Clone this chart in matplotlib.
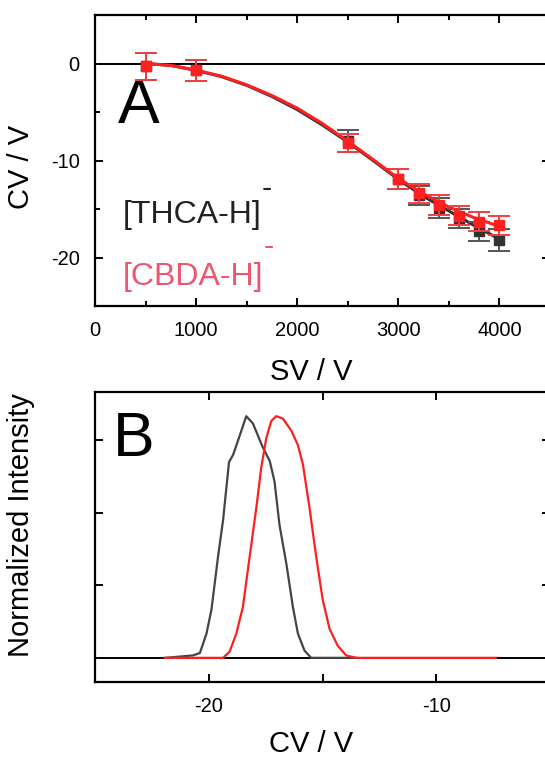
import numpy as np
import matplotlib
matplotlib.use('Agg')
import matplotlib.pyplot as plt
from matplotlib.ticker import MultipleLocator, NullFormatter

plt.rcParams['font.family'] = ['Liberation Sans', 'DejaVu Sans']
plt.rcParams['axes.unicode_minus'] = False

# panel A: CV vs SV
sv = [500, 1000, 2500, 3000, 3200, 3400, 3600, 3800, 4000]
cv_thca = [-0.3, -0.7, -8.0, -11.9, -13.6, -14.9, -16.0, -17.3, -18.2]
err_thca = [1.4, 1.1, 1.1, 1.0, 1.0, 1.0, 1.0, 1.0, 1.1]
cv_cbda = [-0.3, -0.7, -8.2, -11.9, -13.4, -14.6, -15.7, -16.3, -16.7]
err_cbda = [1.4, 1.1, 0.9, 1.0, 1.0, 1.0, 1.0, 1.0, 1.0]

# fitted curves
sv_fit = [500, 750, 1000, 1250, 1500, 1750, 2000, 2250, 2500, 2750, 3000, 3250, 3500, 3750, 4000]
fit_thca = [0.0, -0.2, -0.7, -1.35, -2.25, -3.4, -4.75, -6.35, -8.1, -10.0, -11.95, -13.7, -15.2, -16.7, -18.1]
fit_cbda = [0.0, -0.2, -0.7, -1.3, -2.2, -3.3, -4.6, -6.2, -8.0, -9.9, -11.85, -13.45, -14.8, -15.9, -16.8]

# panel B: normalized CV spectra
cv_b_thca = [-21.9, -20.69, -20.39, -20.10, -19.88, -19.59, -19.37, -19.11, -18.93, -18.71, -18.35,
             -18.06, -17.62, -17.32, -17.11, -16.89, -16.59, -16.30, -16.08, -15.79, -15.50, -13.5]
int_thca = [0.0, 0.01, 0.02, 0.10, 0.20, 0.42, 0.57, 0.81, 0.84, 0.90, 1.0,
            0.97, 0.87, 0.815, 0.73, 0.55, 0.39, 0.21, 0.10, 0.03, 0.0, 0.0]
cv_b_cbda = [-21.93, -19.37, -19.08, -18.79, -18.50, -18.20, -17.91, -17.69, -17.47, -17.25, -17.03,
             -16.74, -16.37, -16.08, -15.86, -15.57, -15.28, -14.99, -14.69, -14.33, -13.96, -13.52, -7.38]
int_cbda = [0.0, 0.0, 0.026, 0.10, 0.21, 0.42, 0.62, 0.79, 0.91, 0.98, 1.0,
            0.99, 0.94, 0.88, 0.80, 0.62, 0.42, 0.24, 0.12, 0.05, 0.01, 0.0, 0.0]

black = '#333333'
red = '#ff1f1f'
pink = '#ee5670'

fig = plt.figure(figsize=(5.45, 7.59), dpi=100)
axA = fig.add_axes([95/545, 1-306/759, 455/545, 291/759])
axB = fig.add_axes([95/545, 1-682/759, 455/545, 290/759])

# ---- A
axA.axhline(0, color='black', lw=1.4, zorder=1)
axA.plot(sv_fit, fit_thca, color=black, lw=2.2, zorder=2)
axA.errorbar(sv, cv_thca, yerr=err_thca, fmt='s', color=black, ecolor='#555555',
             ms=6.5, capsize=8, elinewidth=1.4, capthick=1.4, zorder=3)
axA.plot(sv_fit, fit_cbda, color=red, lw=2.2, zorder=4)
axA.errorbar(sv, cv_cbda, yerr=err_cbda, fmt='s', color=red, ecolor='#f04040',
             ms=6.5, capsize=8, elinewidth=1.4, capthick=1.4, zorder=5)

axA.set_xlim(0, 4500)
axA.set_ylim(-25, 5)
axA.xaxis.set_major_locator(MultipleLocator(1000))
axA.xaxis.set_minor_locator(MultipleLocator(500))
axA.yaxis.set_major_locator(MultipleLocator(10))
axA.yaxis.set_minor_locator(MultipleLocator(5))
axA.set_xlabel('SV / V', fontsize=21)
axA.set_ylabel('CV / V', fontsize=21)
axA.xaxis.set_label_coords((311-95)/455, -(358-306)/291)
axA.yaxis.set_label_coords(-(95-35)/455, (306-167)/291)

axA.text(228, -6.15, 'A', fontsize=45, ha='left', va='baseline')
axA.text(277, -16.4, '[THCA-H]', fontsize=23, color='#222222', ha='left', va='baseline')
axA.text(1650, -12.9, '-', fontsize=22, color='#222222', ha='left', va='center')
axA.text(277, -22.8, '[CBDA-H]', fontsize=23, color=pink, ha='left', va='baseline')
axA.text(1665, -18.9, '-', fontsize=22, color=pink, ha='left', va='center')

# ---- B
axB.axhline(0, color='black', lw=1.4, zorder=1)
axB.plot(cv_b_thca, int_thca, color='#444444', lw=1.6, zorder=2)
axB.plot(cv_b_cbda, int_cbda, color=red, lw=1.6, zorder=3)
axB.set_xlim(-25, -5)
axB.set_ylim(-0.1, 1.1)
axB.xaxis.set_major_locator(MultipleLocator(10))
axB.xaxis.set_minor_locator(MultipleLocator(5))
axB.set_yticks([0.3, 0.6, 0.9])
axB.yaxis.set_major_formatter(NullFormatter())
axB.set_xlabel('CV / V', fontsize=21)
axB.set_ylabel('Normalized Intensity', fontsize=21)
axB.xaxis.set_label_coords((311-95)/455, -(730-682)/290)
axB.yaxis.set_label_coords(-(95-35)/455, (682-525)/290)
axB.text(-24.2, 0.835, 'B', fontsize=45, ha='left', va='baseline')

for ax in (axA, axB):
    for s in ax.spines.values():
        s.set_linewidth(1.6)
    ax.tick_params(which='both', direction='in', top=True, right=True, width=1.4, labelsize=14.5)
    ax.tick_params(which='major', length=6, pad=11)
    ax.tick_params(which='minor', length=3.5)
axB.tick_params(which='minor', length=6)

fig.savefig('out.png', dpi=100, facecolor='white')
